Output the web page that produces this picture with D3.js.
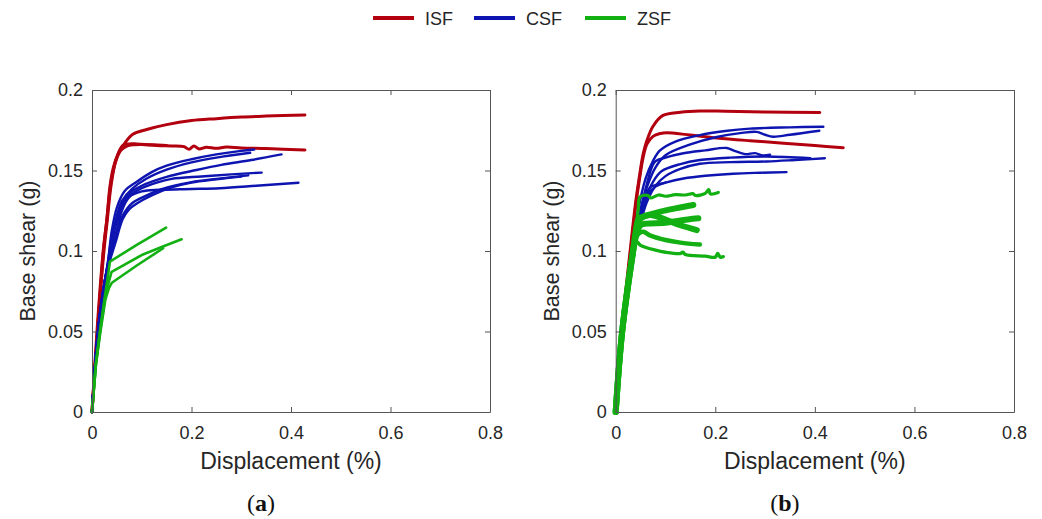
<!DOCTYPE html>
<html><head><meta charset="utf-8">
<script src="https://cdn.jsdelivr.net/npm/d3@7"></script>
<style>body{margin:0;background:#fff}svg{display:block}</style>
</head><body>
<svg id="c" width="1042" height="519"></svg>
<script>
// ---------- DATA ----------
const categories = ["ISF", "CSF", "ZSF"];
const panels = ["a", "b"];
const xTicks = [0, 0.2, 0.4, 0.6, 0.8];
const xTickLabels = ["0", "0.2", "0.4", "0.6", "0.8"];
const yTicks = [0, 0.05, 0.1, 0.15, 0.2];
const yTickLabels = ["0", "0.05", "0.1", "0.15", "0.2"];
const xLabel = "Displacement (%)";
const yLabel = "Base shear (g)";

// Panel (a)
const aISF = [
  [[0,0],[0.01,0.05],[0.0225,0.1],[0.03,0.12],[0.037,0.14],[0.045,0.153],[0.055,0.162],[0.066,0.167],[0.082,0.1725],[0.11,0.1755],[0.15,0.1785],[0.2,0.181],[0.25,0.1822],[0.3,0.1832],[0.35,0.1838],[0.428,0.1845]],
  [[0,0],[0.011,0.05],[0.024,0.1],[0.031,0.12],[0.038,0.14],[0.047,0.155],[0.058,0.1625],[0.07,0.1652],[0.085,0.166],[0.1,0.1662],[0.13,0.1655],[0.16,0.1652],[0.185,0.1648],[0.195,0.1632],[0.205,0.1652],[0.215,0.1634],[0.23,0.1645],[0.25,0.1638],[0.27,0.1646],[0.3,0.164],[0.35,0.1636],[0.428,0.1628]],
  [[0,0],[0.011,0.05],[0.023,0.1],[0.03,0.12],[0.036,0.14],[0.043,0.152],[0.052,0.16],[0.062,0.1655],[0.075,0.1665],[0.09,0.1665],[0.12,0.166],[0.15,0.1656]]
];
const aCSF = [
  [[0,0],[0.012,0.05],[0.025,0.08],[0.032,0.093],[0.04,0.113],[0.05,0.127],[0.065,0.137],[0.09,0.143],[0.12,0.149],[0.15,0.153],[0.2,0.157],[0.25,0.16],[0.3,0.1622],[0.326,0.163]],
  [[0,0],[0.012,0.05],[0.025,0.08],[0.032,0.093],[0.04,0.11],[0.05,0.122],[0.06,0.131],[0.08,0.1385],[0.11,0.145],[0.15,0.1505],[0.2,0.155],[0.25,0.158],[0.318,0.161]],
  [[0,0],[0.012,0.05],[0.025,0.08],[0.033,0.093],[0.042,0.108],[0.055,0.125],[0.07,0.1345],[0.1,0.1405],[0.15,0.146],[0.21,0.1503],[0.26,0.1535],[0.32,0.1565],[0.381,0.16]],
  [[0,0],[0.012,0.05],[0.025,0.08],[0.033,0.093],[0.04,0.107],[0.055,0.123],[0.07,0.133],[0.1,0.139],[0.13,0.1425],[0.16,0.1448],[0.22,0.1463],[0.28,0.1476],[0.341,0.1487]],
  [[0,0],[0.012,0.05],[0.025,0.08],[0.034,0.093],[0.043,0.105],[0.06,0.121],[0.08,0.1295],[0.11,0.1345],[0.14,0.1385],[0.2,0.1428],[0.25,0.1448],[0.314,0.147]],
  [[0,0],[0.012,0.05],[0.025,0.08],[0.034,0.093],[0.045,0.106],[0.06,0.125],[0.075,0.1335],[0.1,0.137],[0.137,0.138],[0.2,0.1385],[0.257,0.139],[0.33,0.1405],[0.415,0.1424]],
  [[0,0],[0.012,0.05],[0.025,0.08],[0.035,0.093],[0.047,0.105],[0.062,0.12],[0.075,0.126],[0.09,0.1295],[0.12,0.1345],[0.16,0.1395],[0.2,0.1425],[0.25,0.1445],[0.3,0.1462]]
];
const aZSF = [
  [[0,0],[0.008,0.03],[0.016,0.05],[0.025,0.07],[0.031,0.082],[0.036,0.0934],[0.09,0.1038],[0.149,0.1145]],
  [[0,0],[0.008,0.03],[0.016,0.05],[0.026,0.07],[0.033,0.08],[0.0395,0.0871],[0.1,0.0975],[0.14,0.1025],[0.18,0.1073]],
  [[0,0],[0.008,0.03],[0.017,0.05],[0.027,0.07],[0.034,0.077],[0.04,0.0803],[0.09,0.091],[0.143,0.1017]]
];

// Panel (b)
const bISF = [
  [[0,0],[0.012,0.05],[0.029,0.1],[0.04,0.13],[0.047,0.145],[0.055,0.16],[0.062,0.168],[0.075,0.1775],[0.095,0.1842],[0.13,0.1862],[0.169,0.187],[0.22,0.1868],[0.3,0.1863],[0.41,0.186]],
  [[0,0],[0.013,0.05],[0.03,0.1],[0.041,0.13],[0.048,0.145],[0.055,0.158],[0.063,0.1665],[0.075,0.1712],[0.09,0.173],[0.102,0.1735],[0.15,0.172],[0.203,0.1702],[0.27,0.1685],[0.337,0.167],[0.4,0.1655],[0.457,0.1642]]
];
const bCSF = [
  [[0,0],[0.013,0.05],[0.03,0.095],[0.038,0.11],[0.045,0.125],[0.06,0.145],[0.075,0.156],[0.089,0.1625],[0.12,0.168],[0.169,0.172],[0.22,0.1745],[0.27,0.176],[0.35,0.1768],[0.417,0.1772]],
  [[0,0],[0.013,0.05],[0.03,0.095],[0.039,0.11],[0.047,0.122],[0.062,0.139],[0.08,0.152],[0.1,0.1595],[0.15,0.1662],[0.203,0.1708],[0.25,0.1732],[0.283,0.174],[0.3,0.1722],[0.316,0.171],[0.35,0.1722],[0.409,0.1747]],
  [[0,0],[0.013,0.05],[0.03,0.095],[0.039,0.11],[0.047,0.12],[0.062,0.141],[0.079,0.1555],[0.1,0.158],[0.136,0.1607],[0.18,0.1625],[0.223,0.164],[0.24,0.162],[0.26,0.1602],[0.28,0.1608],[0.295,0.1594],[0.31,0.1598]],
  [[0,0],[0.013,0.05],[0.03,0.095],[0.04,0.11],[0.048,0.118],[0.062,0.134],[0.075,0.143],[0.092,0.1495],[0.13,0.154],[0.169,0.1565],[0.23,0.158],[0.303,0.1587],[0.391,0.1576]],
  [[0,0],[0.013,0.05],[0.03,0.095],[0.04,0.11],[0.05,0.118],[0.062,0.13],[0.08,0.1405],[0.1,0.1465],[0.13,0.151],[0.169,0.1542],[0.23,0.1552],[0.303,0.1556],[0.36,0.1565],[0.42,0.1576]],
  [[0,0],[0.013,0.05],[0.031,0.095],[0.041,0.11],[0.05,0.124],[0.06,0.134],[0.069,0.1395],[0.1,0.1425],[0.136,0.145],[0.18,0.1467],[0.236,0.148],[0.29,0.1486],[0.343,0.149]],
  [[0,0],[0.013,0.05],[0.031,0.095],[0.042,0.108],[0.05,0.118],[0.0555,0.128],[0.065,0.135],[0.08,0.14],[0.1,0.1425]]
];
const bZSF = [
  [[0,0],[0.013,0.05],[0.035,0.1],[0.04,0.112],[0.045,0.125],[0.049,0.1337],[0.065,0.1345],[0.07,0.133],[0.086,0.1348],[0.1,0.134],[0.12,0.135],[0.14,0.1348],[0.155,0.1356],[0.16,0.1345],[0.18,0.1358],[0.187,0.1382],[0.19,0.1355],[0.206,0.1364]],
  [[0,0],[0.013,0.05],[0.035,0.1],[0.04,0.112],[0.046,0.12],[0.055,0.1213],[0.09,0.1245],[0.12,0.1265],[0.156,0.1286]],
  [[0,0],[0.013,0.05],[0.035,0.1],[0.042,0.113],[0.05,0.12],[0.069,0.1224],[0.1,0.1195],[0.13,0.116],[0.163,0.113]],
  [[0,0],[0.013,0.05],[0.035,0.1],[0.043,0.112],[0.05,0.116],[0.062,0.117],[0.1,0.1175],[0.13,0.119],[0.166,0.1203]],
  [[0,0],[0.013,0.05],[0.035,0.1],[0.044,0.11],[0.055,0.112],[0.07,0.1095],[0.1,0.1068],[0.13,0.1052],[0.169,0.104]],
  [[0,0],[0.013,0.05],[0.035,0.1],[0.042,0.1058],[0.05,0.1035],[0.08,0.1005],[0.1,0.0992],[0.129,0.0984],[0.135,0.0992],[0.14,0.0978],[0.18,0.0968],[0.2,0.0962],[0.205,0.0985],[0.21,0.0962],[0.216,0.0965]]
];

const panelData = {
  a: {ISF: aISF, CSF: aCSF, ZSF: aZSF},
  b: {ISF: bISF, CSF: bCSF, ZSF: bZSF}
};

// ---------- STYLE / LAYOUT ----------
const colors = {ISF: "#b3000e", CSF: "#0d14b0", ZSF: "#12b012"};
const widths = {ISF: 3, CSF: 2.4, ZSF: 2.6};
const thickB = {ZSF: [3.2, 6, 6, 6, 4.5, 3.4]};
const layout = {
  a: {x0: 92, x1: 490},
  b: {x0: 615.7, x1: 1014}
};
const yTop = 90, yBot = 412;
const font = "'Liberation Sans', Arial, Helvetica, sans-serif";
const textColor = "#262626";
const axisColor = "#555";

const svg = d3.select("#c");

panels.forEach(p => {
  const L = layout[p];
  const x = d3.scaleLinear().domain([0, 0.8]).range([L.x0, L.x1]);
  const y = d3.scaleLinear().domain([0, 0.2]).range([yBot, yTop]);
  const g = svg.append("g");

  const smooth = d3.line().x(d => x(d[0])).y(d => y(d[1])).curve(d3.curveCatmullRom.alpha(0.5));
  const straight = d3.line().x(d => x(d[0])).y(d => y(d[1])).curve(d3.curveLinear);
  ["ISF", "CSF", "ZSF"].forEach(cat => {
    panelData[p][cat].forEach((curve, i) => {
      let w = widths[cat];
      if (p === "b" && thickB[cat]) w = thickB[cat][i];
      const gen = (p === "a" && cat === "ZSF") ? straight : smooth;
      g.append("path").attr("d", gen(curve)).attr("fill", "none")
        .attr("stroke", colors[cat]).attr("stroke-width", w)
        .attr("stroke-linejoin", "round").attr("stroke-linecap", "round");
    });
  });

  // Box axes (ticks inward)
  const styleAxis = (sel) => {
    sel.selectAll("path.domain").attr("stroke", axisColor).attr("stroke-width", 1);
    sel.selectAll(".tick line").attr("stroke", axisColor).attr("stroke-width", 1);
    sel.selectAll(".tick text").attr("fill", textColor).style("font-family", font).style("font-size", "18px");
  };
  const bx = g.append("g").attr("transform", `translate(0,${yBot})`)
    .call(d3.axisBottom(x).tickValues(xTicks).tickFormat((d, i) => xTickLabels[i]).tickSizeInner(-5).tickSizeOuter(0).tickPadding(14));
  styleAxis(bx);
  const tx = g.append("g").attr("transform", `translate(0,${yTop})`)
    .call(d3.axisTop(x).tickValues(xTicks).tickFormat("").tickSizeInner(-5).tickSizeOuter(0));
  styleAxis(tx);
  const ly = g.append("g").attr("transform", `translate(${L.x0},0)`)
    .call(d3.axisLeft(y).tickValues(yTicks).tickFormat((d, i) => yTickLabels[i]).tickSizeInner(-5).tickSizeOuter(0).tickPadding(9));
  styleAxis(ly);
  const ry = g.append("g").attr("transform", `translate(${L.x1},0)`)
    .call(d3.axisRight(y).tickValues(yTicks).tickFormat("").tickSizeInner(-5).tickSizeOuter(0));
  styleAxis(ry);

  // Axis labels
  g.append("text").attr("x", (L.x0 + L.x1) / 2).attr("y", 469).attr("text-anchor", "middle")
    .attr("fill", textColor).style("font-family", font).style("font-size", "23px").text(xLabel);
  g.append("text").attr("transform", `translate(${L.x0 - 57},${(yTop + yBot) / 2}) rotate(-90)`)
    .attr("text-anchor", "middle").attr("fill", textColor).style("font-family", font).style("font-size", "21.5px").text(yLabel);

  // Panel caption
  const cap = g.append("text").attr("x", (L.x0 + L.x1) / 2 - 30).attr("y", 511).attr("text-anchor", "middle")
    .attr("fill", "#111").style("font-family", "'Liberation Serif', 'DejaVu Serif', serif").style("font-size", "24px");
  cap.append("tspan").text("(");
  cap.append("tspan").attr("font-weight", "bold").text(p);
  cap.append("tspan").text(")");
});

// Legend
const legendX = [373, 474, 585];
const legend = svg.append("g");
categories.forEach((cat, i) => {
  legend.append("line").attr("x1", legendX[i]).attr("x2", legendX[i] + 41).attr("y1", 18).attr("y2", 18)
    .attr("stroke", colors[cat]).attr("stroke-width", 4);
  legend.append("text").attr("x", legendX[i] + 52).attr("y", 24.5).attr("fill", textColor)
    .style("font-family", font).style("font-size", "18px").text(cat);
});
</script>
</body></html>
